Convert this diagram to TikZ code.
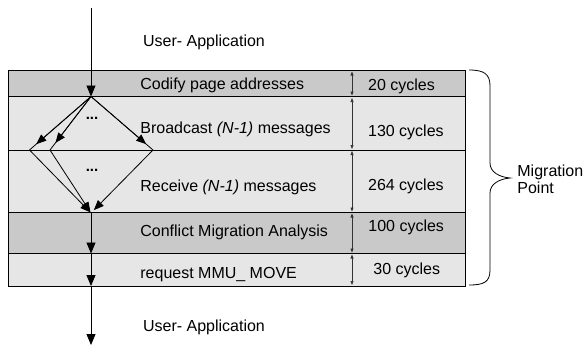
\documentclass[tikz,border=0pt]{standalone}
\usepackage{fontspec}
\setmainfont{Liberation Sans}
\usetikzlibrary{arrows.meta}
\definecolor{dk}{RGB}{201,201,201}
\definecolor{lt}{RGB}{230,230,230}
\begin{document}
\begin{tikzpicture}[x=1pt,y=-1pt,
  line width=0.8pt,
  lbl/.style={font=\fontsize{16}{18}\selectfont, inner sep=0pt, anchor=base west},
  flow/.style={-{Triangle[length=11pt,width=9pt]}},
  diag/.style={-{Triangle[length=10pt,width=8pt]}},
  dbl/.style={{Triangle[length=4pt,width=3pt]}-{Triangle[length=4pt,width=3pt]}, line width=0.6pt, draw=black!80}]
\useasboundingbox (0,0) rectangle (585,348);
% rows
\fill[dk] (8,70) rectangle (465,96.5);
\fill[lt] (8,96.5) rectangle (465,212.5);
\fill[dk] (8,212.5) rectangle (465,253.5);
\fill[lt] (8,253.5) rectangle (465,286);
\draw (8,70) rectangle (465,286);
\draw (8,96.5) -- (465,96.5);
\draw (8,150) -- (465,150);
\draw (8,212.5) -- (465,212.5);
\draw (8,253.5) -- (465,253.5);
% coordinates
\coordinate (start) at (91,8);
\coordinate (top) at (91,96.5);
\coordinate (L1) at (29.5,150);
\coordinate (L2) at (50,150);
\coordinate (R) at (153,150);
\coordinate (bot) at (91,213);
\coordinate (r4) at (91,253.5);
\coordinate (r5) at (91,286);
\coordinate (end) at (91,345);
% main flow
\draw[flow] (start) -- (top);
\draw (top) -- (L1);
\draw (top) -- (L2);
\draw (top) -- (R);
\draw[diag, shorten >=9pt] (top) -- (L1);
\draw[diag, shorten >=9pt] (top) -- (L2);
\draw[diag, shorten >=9pt] (top) -- (R);
\draw[diag, shorten >=1pt] (L1) -- (bot);
\draw[diag, shorten >=1pt] (L2) -- (bot);
\draw[diag, shorten >=4pt] (R) -- (bot);
\draw[flow] (bot) -- (r4);
\draw[flow] (r4) -- (r5);
\draw[flow] (r5) -- (end);
\node[font=\bfseries\fontsize{15}{17}\selectfont, inner sep=0pt] (d1) at (92,118) {...};
\node[font=\bfseries\fontsize{15}{17}\selectfont, inner sep=0pt] (d2) at (92,170) {...};
% labels
\node[lbl] (ua1) at (142.7,46) {User- Application};
\node[lbl] (ua2) at (142.7,331) {User- Application};
\node[lbl] (t1) at (140,89.3) {Codify page addresses};
\node[lbl] (t2) at (140,133.3) {Broadcast \textit{(N-1)} messages};
\node[lbl] (t3) at (140,191.7) {Receive \textit{(N-1)} messages};
\node[lbl] (t4) at (140,236.7) {Conflict Migration Analysis};
\node[lbl] (t5) at (140,278.3) {request MMU\_ MOVE};
\node[lbl] (c1) at (367.7,90.7) {20 cycles};
\node[lbl] (c2) at (367.7,136.7) {130 cycles};
\node[lbl] (c3) at (367.7,190) {264 cycles};
\node[lbl] (c4) at (368,231.7) {100 cycles};
\node[lbl] (c5) at (373,274) {30 cycles};
% timing arrows
\draw[dbl] (352,71.5) -- (352,95.5);
\draw[dbl] (352,98) -- (352,149);
\draw[dbl] (352,151) -- (352,211.5);
\draw[dbl] (352,213.5) -- (352,252.5);
\draw[dbl] (352,254.5) -- (352,285);
% brace
\draw[line width=0.8pt] (469,70) .. controls (484,70) and (490,74) .. (490,86) -- (490,163)
  .. controls (490,172) and (499,177) .. (510,178)
  .. controls (499,179) and (490,184) .. (490,193) -- (490,270)
  .. controls (490,282) and (484,285) .. (469,285);
\node[lbl] (mp1) at (517,176) {Migration};
\node[lbl] (mp2) at (517,193) {Point};
\end{tikzpicture}
\end{document}
